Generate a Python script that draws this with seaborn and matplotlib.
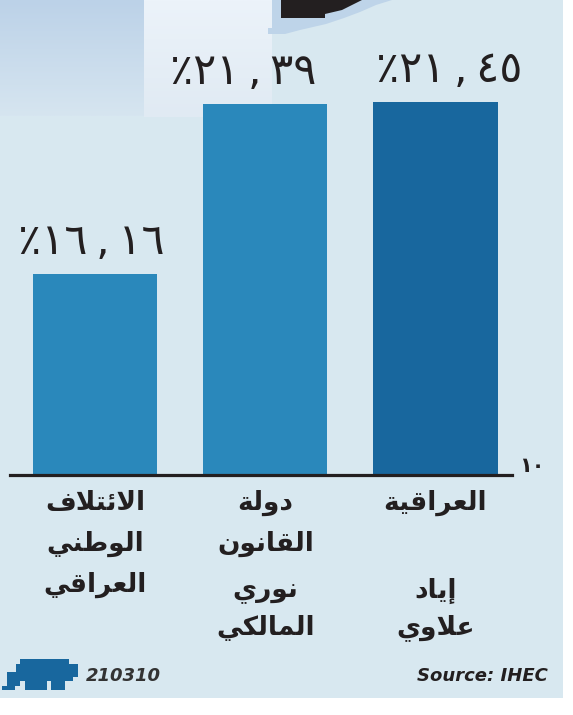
import matplotlib
matplotlib.use("Agg")
import matplotlib.pyplot as plt
import numpy as np
import seaborn as sns
from matplotlib.patches import Rectangle, Polygon

# --- data -------------------------------------------------------------------
parties = ["الائتلاف الوطني العراقي", "دولة القانون", "العراقية"]
party_lines = [["الائتلاف", "الوطني", "العراقي"], ["دولة", "القانون"], ["العراقية"]]
leader_lines = [[], ["نوري", "المالكي"], ["إياد", "علاوي"]]
shares = [16.16, 21.39, 21.45]
bar_colors = ["#2a88bb", "#2a88bb", "#18679e"]
baseline = 10
date_code = "210310"
source = "Source: IHEC"

INK = "#231f20"
BG = "#d8e8f0"

# Arabic contextual forms: (isolated, final, initial, medial)
FORMS = {
    'ا': ('\uFE8D', '\uFE8E', None, None),
    'إ': ('\uFE87', '\uFE88', None, None),
    'د': ('\uFEA9', '\uFEAA', None, None),
    'ر': ('\uFEAD', '\uFEAE', None, None),
    'و': ('\uFEED', '\uFEEE', None, None),
    'ة': ('\uFE93', '\uFE94', None, None),
    'ل': ('\uFEDD', '\uFEDE', '\uFEDF', '\uFEE0'),
    'ئ': ('\uFE89', '\uFE8A', '\uFE8B', '\uFE8C'),
    'ت': ('\uFE95', '\uFE96', '\uFE97', '\uFE98'),
    'ف': ('\uFED1', '\uFED2', '\uFED3', '\uFED4'),
    'ط': ('\uFEC1', '\uFEC2', '\uFEC3', '\uFEC4'),
    'ن': ('\uFEE5', '\uFEE6', '\uFEE7', '\uFEE8'),
    'ي': ('\uFEF1', '\uFEF2', '\uFEF3', '\uFEF4'),
    'ع': ('\uFEC9', '\uFECA', '\uFECB', '\uFECC'),
    'ق': ('\uFED5', '\uFED6', '\uFED7', '\uFED8'),
    'م': ('\uFEE1', '\uFEE2', '\uFEE3', '\uFEE4'),
    'ك': ('\uFED9', '\uFEDA', '\uFEDB', '\uFEDC'),
}
LAM_ALEF = ('\uFEFB', '\uFEFC')


def shape(word):
    # join letters by hand (matplotlib has no bidi / shaping) and flip to visual order
    out, i, prev_joins = [], 0, False
    while i < len(word):
        ch = word[i]
        if ch == 'ل' and i + 1 < len(word) and word[i + 1] == 'ا':
            out.append(LAM_ALEF[1] if prev_joins else LAM_ALEF[0])
            prev_joins, i = False, i + 2
            continue
        iso, fin, ini, med = FORMS[ch]
        next_joins = ini is not None and i + 1 < len(word)
        if prev_joins and next_joins:
            g = med
        elif prev_joins:
            g = fin
        elif next_joins:
            g = ini
        else:
            g = iso
        out.append(g)
        prev_joins = next_joins
        i += 1
    return "".join(reversed(out))


def arabic_pct(v):
    digits = f"{v:.2f}".replace(".", "\u2009,\u2009").translate(str.maketrans("0123456789", "٠١٢٣٤٥٦٧٨٩"))
    return "٪" + digits


# --- figure -----------------------------------------------------------------
sns.set_style("white")
plt.rcParams['font.family'] = ['DejaVu Sans']

W, H = 573, 715
fig = plt.figure(figsize=(W / 100, H / 100), dpi=100)
fig.patch.set_facecolor("white")

# background / leftover artwork layer in pixel coordinates
bg = fig.add_axes([0, 0, 1, 1], zorder=0)
bg.add_patch(Rectangle((0, 0), 563, 698, color=BG, lw=0, zorder=-1))
grad = np.linspace(0, 1, 100)[:, None, None]
c_top, c_bot = np.array([188, 210, 232]) / 255, np.array([214, 229, 240]) / 255
bg.imshow(c_top + grad * (c_bot - c_top), extent=(0, 144, 116, 0), aspect='auto', zorder=0)
c_top, c_bot = np.array([236, 243, 250]) / 255, np.array([224, 234, 243]) / 255
bg.imshow(c_top + grad * (c_bot - c_top), extent=(144, 272, 117, 0), aspect='auto', zorder=0)
bg.add_patch(Polygon([(268, 34), (268, 28), (272, 28), (272, 0), (392, 0), (376, 5), (360, 12),
                      (344, 18), (326, 24), (300, 30), (285, 34)], color="#bed4e9", lw=0, zorder=1))
bg.add_patch(Polygon([(281, 0), (362, 0), (352, 5), (342, 10), (325, 14), (325, 18), (281, 18)],
                     color=INK, lw=0, zorder=2))
# AFP logo
bg.add_patch(Polygon([(2, 690), (2, 686), (7, 686), (7, 672), (16, 672), (16, 664), (20, 664), (20, 659),
                      (69, 659), (69, 664), (78, 664), (78, 677), (73, 677), (73, 681), (65, 681),
                      (65, 690), (51, 690), (51, 681), (47, 681), (47, 690), (25, 690), (25, 681),
                      (20, 681), (20, 686), (15, 686), (15, 690)], color="#18679e", lw=0, zorder=2))
bg.text(86, 676, date_code, fontsize=13, fontweight='bold', fontstyle='italic', color="#333333",
        ha='left', va='center')
bg.text(548, 676, source, fontsize=13, fontweight='bold', fontstyle='italic', color=INK,
        ha='right', va='center')
bg.set_xlim(0, W); bg.set_ylim(H, 0); bg.axis('off')

# chart axes: baseline at y=475 px
ax = fig.add_axes([10 / W, (H - 475) / H, 502 / W, 475 / H], zorder=1)
ax.patch.set_alpha(0)
sns.barplot(x=parties, y=shares, hue=parties, palette=bar_colors, legend=False,
            width=0.73, saturation=1, linewidth=0, ax=ax)
ax.set_xlim(-0.5, 2.45)
ax.set_ylim(baseline, baseline + 475 / 32.6)
ax.set_xticks([]); ax.set_yticks([])
ax.set_xlabel(""); ax.set_ylabel("")
for s in ["top", "left", "right"]:
    ax.spines[s].set_visible(False)
ax.spines["bottom"].set_linewidth(2.3)
ax.spines["bottom"].set_color(INK)

label_shift = [-4, -22, 14]
for i, v in enumerate(shares):
    ax.annotate(arabic_pct(v), xy=(i, v), xytext=(label_shift[i], 11), textcoords='offset pixels',
                ha='center', va='bottom', fontsize=31, color=INK)

# category names under the baseline
for i in range(len(parties)):
    for k, line in enumerate(party_lines[i]):
        ax.annotate(shape(line), xy=(i, baseline), xytext=(0, -28 - 41 * k), textcoords='offset pixels',
                    ha='center', va='center', fontsize=19, fontweight='bold', color=INK)
    for k, line in enumerate(leader_lines[i]):
        ax.annotate(shape(line), xy=(i, baseline), xytext=(0, -116 - 37 * k), textcoords='offset pixels',
                    ha='center', va='center', fontsize=19, fontweight='bold', color=INK)

ax.annotate("١٠", xy=(1, baseline), xycoords=('axes fraction', 'data'), xytext=(20, 9),
            textcoords='offset pixels', ha='center', va='center', fontsize=15, fontweight='bold', color=INK)

fig.savefig("out.png", dpi=100)
